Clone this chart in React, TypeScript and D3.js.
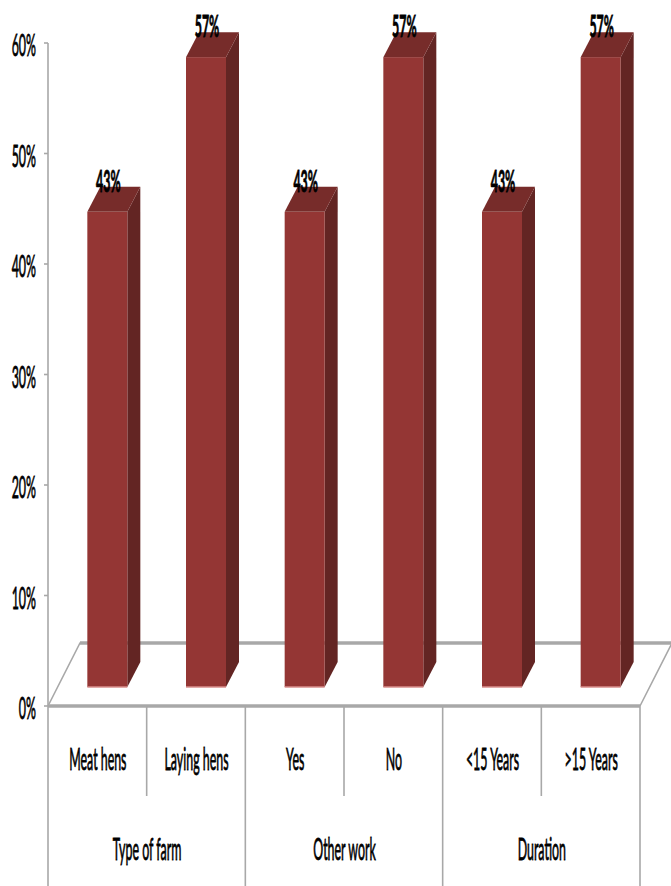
import React from "react";
import * as d3 from "d3";

const categories = ["Meat hens", "Laying hens", "Yes", "No", "<15 Years", ">15 Years"];
const values = [43, 57, 43, 57, 43, 57];
const groups = ["Type of farm", "Other work", "Duration"];
const axisTicks = [0, 10, 20, 30, 40, 50, 60];

const W = 671;
const H = 886;
const plotLeft = 48;
const plotRight = 640;
const axisZero = 706;
const axisTop = 43;
const depthX = 13;
const depthY = 25;
const floorDx = 32;
const floorDy = 63;
const barFloorOffset = 19;
const barWidth = 40;

const GRID = "#a8a8a8";
const FRONT = "#943634";
const SIDE = "#632523";
const TOP = "#772c2a";
const FONT = "Lato, 'Open Sans', sans-serif";

// Condensed text: the glyphs are narrowed horizontally about their anchor.
function Squeezed(props: {
  x: number;
  y: number;
  size: number;
  sx: number;
  anchor?: string;
  weight?: number;
  outline?: number;
  children: React.ReactNode;
}) {
  const { x, y, size, sx, anchor = "middle", weight = 400, outline = 0.8, children } = props;
  return (
    <text
      transform={`translate(${x},${y}) scale(${sx},1)`}
      textAnchor={anchor}
      fontFamily={FONT}
      fontSize={size}
      fontWeight={weight}
      fill="#000"
      stroke="#000"
      strokeWidth={outline}
    >
      {children}
    </text>
  );
}

export default function App() {
  const y = d3.scaleLinear().domain([0, 60]).range([axisZero, axisTop]);
  const x = d3.scaleBand<string>().domain(categories).range([plotLeft, plotRight]);
  const step = x.step();

  const floor = d3.line()([
    [plotLeft, axisZero],
    [plotLeft + floorDx, axisZero - floorDy],
    [plotRight + floorDx, axisZero - floorDy],
    [plotRight, axisZero],
  ]);

  return (
    <svg
      width={W}
      height={H}
      viewBox={`0 0 ${W} ${H}`}
      style={{ position: "absolute", left: 0, top: 0, background: "#fff" }}
    >
      {/* floor outline */}
      <path d={floor ?? ""} fill="none" stroke={GRID} strokeWidth={1.6} />
      <line
        x1={plotLeft + floorDx}
        x2={W}
        y1={axisZero - floorDy}
        y2={axisZero - floorDy}
        stroke={GRID}
        strokeWidth={3.4}
      />
      <line x1={plotLeft} x2={plotRight} y1={axisZero} y2={axisZero} stroke={GRID} strokeWidth={3.4} />

      {/* value axis */}
      <line x1={plotLeft} x2={plotLeft} y1={axisTop} y2={axisZero} stroke={GRID} strokeWidth={1.6} />
      {axisTicks.map((t) => (
        <g key={t}>
          <line x1={plotLeft - 4} x2={plotLeft} y1={y(t)} y2={y(t)} stroke={GRID} strokeWidth={1.6} />
          <Squeezed x={36} y={y(t) + 13} size={31} sx={0.4} anchor="end">
            {t}%
          </Squeezed>
        </g>
      ))}

      {/* category separators: short inside a group, long between groups */}
      {d3.range(categories.length + 1).map((i) => {
        const px = plotLeft + step * i;
        return (
          <line
            key={i}
            x1={px}
            x2={px}
            y1={axisZero}
            y2={i % 2 === 0 ? H : 796}
            stroke={GRID}
            strokeWidth={1.6}
          />
        );
      })}

      {/* bars */}
      {categories.map((c, i) => {
        const v = values[i];
        const left = (x(c) ?? 0) + (step - barWidth) / 2 + 10;
        const right = left + barWidth;
        const bottom = y(0) - barFloorOffset;
        const top = y(v) - barFloorOffset;
        const poly = (pts: [number, number][]) => pts.map((p) => p.join(",")).join(" ");
        return (
          <g key={c}>
            <polygon
              fill={SIDE}
              points={poly([
                [right, top],
                [right + depthX, top - depthY],
                [right + depthX, bottom - depthY],
                [right, bottom],
              ])}
            />
            <polygon
              fill={TOP}
              points={poly([
                [left, top],
                [left + depthX, top - depthY],
                [right + depthX, top - depthY],
                [right, top],
              ])}
            />
            <rect x={left} y={top} width={barWidth} height={bottom - top} fill={FRONT} />
            <line x1={left} x2={right} y1={bottom} y2={bottom} stroke="#d98f8d" strokeWidth={1.4} />
            <Squeezed x={left + 21} y={top - 20} size={31} sx={0.4} weight={700}>
              {v}%
            </Squeezed>
          </g>
        );
      })}

      {/* category and group labels */}
      {categories.map((c) => (
        <Squeezed key={c} x={(x(c) ?? 0) + step / 2 + 0.5} y={770} size={31} sx={0.4}>
          {c}
        </Squeezed>
      ))}
      {groups.map((g, i) => (
        <Squeezed key={g} x={plotLeft + step * (2 * i + 1) + 0.5} y={860} size={31} sx={0.4}>
          {g}
        </Squeezed>
      ))}
    </svg>
  );
}
